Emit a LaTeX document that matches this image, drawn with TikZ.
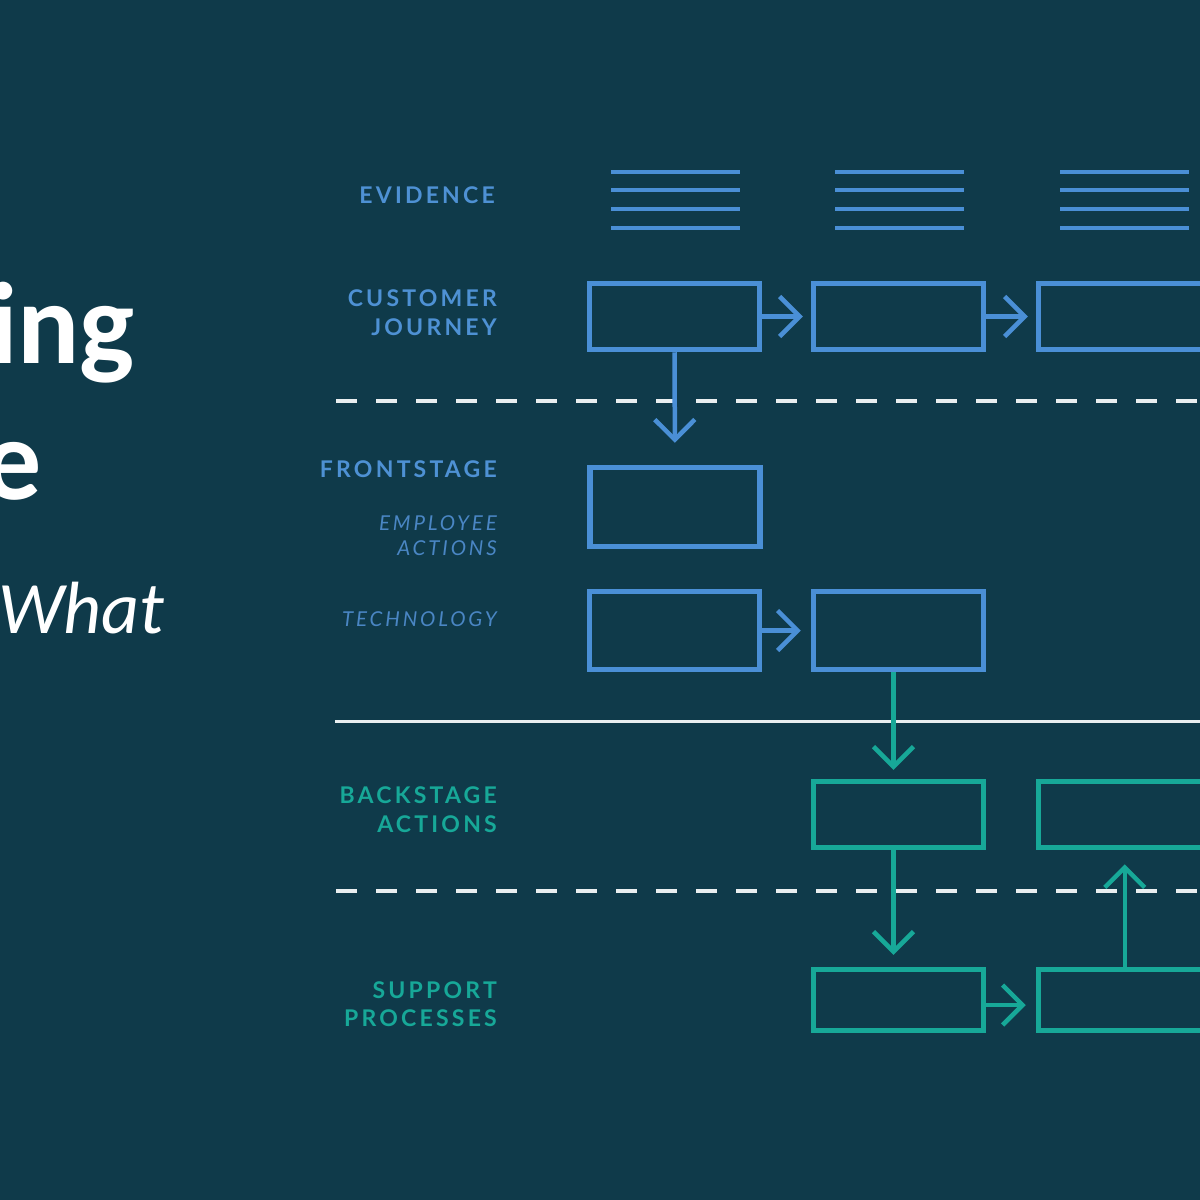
\documentclass[tikz,border=0pt]{standalone}
\usepackage{fontspec}
\setmainfont{Lato}
\newfontfamily\titlefont{Carlito}
\newfontfamily\labfont[LetterSpace=14]{Lato}
\usetikzlibrary{arrows.meta}
\definecolor{bg}{HTML}{0F3A4A}
\definecolor{bp}{HTML}{4A8FD6}
\definecolor{bptext}{HTML}{4E91D4}
\definecolor{bpit}{HTML}{4A86C4}
\definecolor{tl}{HTML}{17A898}
\definecolor{wl}{HTML}{E9EEF0}
\begin{document}
\begin{tikzpicture}[x={(1pt,0)},y={(0,-1pt)},
  box/.style={draw=#1,line width=5.5pt,minimum width=170pt,inner sep=0pt},
  arr/.style={draw=#1,line width=4.5pt,-{Straight Barb[length=20pt,width=40pt,line width=4.5pt]}},
  evl/.style={draw=bp,line width=4pt},
  dline/.style={draw=wl,line width=4pt,dash pattern=on 21pt off 19pt},
  lab/.style={anchor=base east,inner sep=0pt,font=\labfont\bfseries\fontsize{23}{27}\selectfont},
  labit/.style={anchor=base east,inner sep=0pt,text=bpit,font=\labfont\itshape\fontsize{20.5}{24}\selectfont},
  ttl/.style={anchor=base east,inner sep=0pt,text=white}]
\useasboundingbox (0,0) rectangle (1200,1200);
\clip (0,0) rectangle (1200,1200);
\fill[bg] (0,0) rectangle (1200,1200);

% title fragments
\node[ttl,font=\titlefont\bfseries\fontsize{116}{120}\selectfont] (t1) at (135,363) {ing};
\node[ttl,font=\titlefont\bfseries\fontsize{116}{120}\selectfont] (t2) at (42,499) {e};
\node[ttl,font=\titlefont\itshape\fontsize{74}{78}\selectfont] (t3) at (165,633) {What};

% labels
\node[lab,text=bptext] (lev) at (495,203) {EVIDENCE};
\node[lab,text=bptext] (lcj1) at (497,306) {CUSTOMER};
\node[lab,text=bptext] (lcj2) at (497,335) {JOURNEY};
\node[lab,text=bptext] (lfs) at (497,477) {FRONTSTAGE};
\node[labit] (lea1) at (497,530) {EMPLOYEE};
\node[labit] (lea2) at (497,555) {ACTIONS};
\node[labit] (ltech) at (497,626) {TECHNOLOGY};
\node[lab,text=tl] (lba1) at (497,803) {BACKSTAGE};
\node[lab,text=tl] (lba2) at (497,832) {ACTIONS};
\node[lab,text=tl] (lsp1) at (497,998) {SUPPORT};
\node[lab,text=tl] (lsp2) at (497,1026) {PROCESSES};

% evidence lines
\foreach \x in {611,835,1060}{
  \foreach \y in {172,190,209,228}{
    \draw[evl] (\x,\y) -- ++(129,0);
  }
}

% separators
\draw[dline] (336,401) -- (1200,401);
\draw[draw=wl,line width=3pt] (335,721) -- (1200,721);
\draw[dline] (336,891) -- (1200,891);

% boxes
\node[box=bp,minimum height=66pt] (j1) at (674.5,316.5) {};
\node[box=bp,minimum height=66pt] (j2) at (898.5,316.5) {};
\node[box=bp,minimum height=66pt] (j3) at (1123.5,316.5) {};
\node[box=bp,minimum height=79pt] (f1) at (675,507) {};
\node[box=bp,minimum height=78pt] (c1) at (674.5,630.5) {};
\node[box=bp,minimum height=78pt] (c2) at (898.5,630.5) {};
\node[box=tl,minimum height=66pt] (b1) at (898.5,814.5) {};
\node[box=tl,minimum height=66pt] (b2) at (1123.5,814.5) {};
\node[box=tl,minimum height=61pt] (s1) at (898.5,1000) {};
\node[box=tl,minimum height=61pt] (s2) at (1123.5,1000) {};

% connectors
\draw[arr=bp,shorten >=8pt] (j1.east) -- (j2.west);
\draw[arr=bp,shorten >=8pt] (j2.east) -- (j3.west);
\draw[arr=bp,shorten >=22pt] (j1.south) -- (f1.north);
\draw[arr=bp,shorten >=10pt] (c1.east) -- (c2.west);
\draw[arr=tl,shorten >=9pt] ([xshift=-5pt]c2.south) -- ([xshift=-5pt]b1.north);
\draw[arr=tl,shorten >=12pt] ([xshift=-5pt]b1.south) -- ([xshift=-5pt]s1.north);
\draw[arr=tl,shorten >=10pt] ([yshift=-5pt]s1.east) -- ([yshift=-5pt]s2.west);
\coordinate (u) at ([xshift=89pt]s2.north west);
\draw[arr=tl,shorten >=14pt] (u) -- (u |- b2.south);
\end{tikzpicture}
\end{document}
